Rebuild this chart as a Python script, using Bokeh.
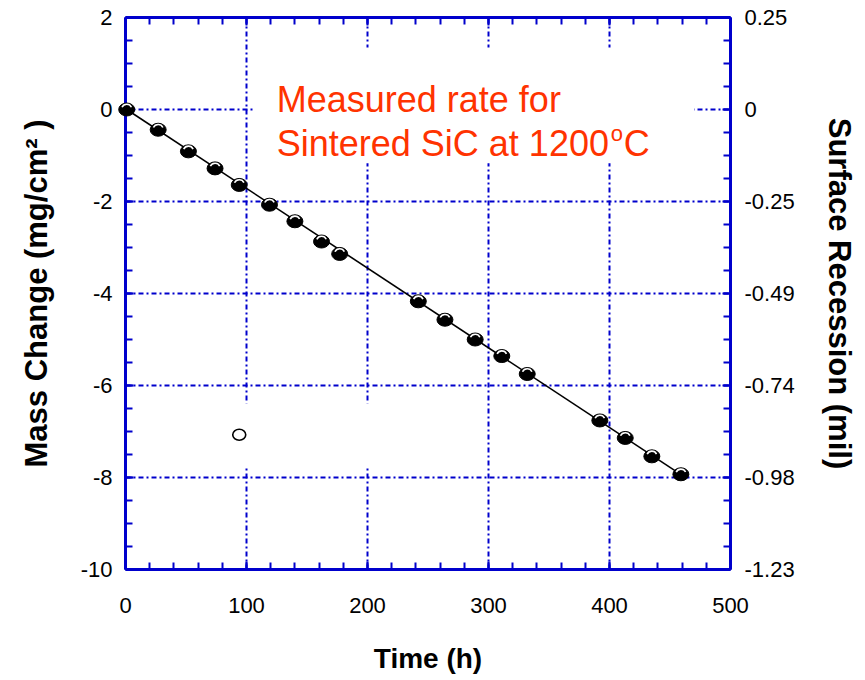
from bokeh.plotting import figure
from bokeh.models import (LinearAxis, SingleIntervalTicker, Label, BoxAnnotation,
                          Range1d, ColumnDataSource, CustomJSTickFormatter)
from bokeh.embed import file_html
from bokeh.resources import INLINE

# ---- data ----
time_h = [1, 27, 52, 74, 94, 119, 140, 162, 177, 242, 264, 289, 311, 332, 392, 413, 435, 459]
mass_change = [0.0, -0.44, -0.91, -1.28, -1.64, -2.07, -2.43, -2.87, -3.14,
               -4.17, -4.57, -5.0, -5.36, -5.75, -6.76, -7.14, -7.54, -7.93]
fit_time = [1, 461]
fit_mass = [0.0, -7.97]
outlier_time = [94]
outlier_mass = [-7.07]
mass_ticks = [2, 0, -2, -4, -6, -8, -10]
mass_labels = ["2", "0", "-2", "-4", "-6", "-8", "-10"]
recession_labels = ["0.25", "0", "-0.25", "-0.49", "-0.74", "-0.98", "-1.23"]

BLUE = "#0000CC"
RED = "#FF3300"
FONT = "Liberation Sans"

p = figure(frame_width=605, frame_height=552,
           x_range=Range1d(0, 500), y_range=Range1d(-10, 2),
           output_backend="svg", toolbar_location=None,
           min_border_left=125, min_border_right=130,
           min_border_top=17, min_border_bottom=105,
           outline_line_color=None, background_fill_color="white",
           border_fill_color="white")


def style_axis(ax, standoff):
    ax.axis_line_color = BLUE
    ax.axis_line_width = 3
    ax.major_tick_line_color = BLUE
    ax.major_tick_line_width = 2
    ax.major_tick_in = 8
    ax.major_tick_out = 0
    ax.minor_tick_line_color = BLUE
    ax.minor_tick_line_width = 2
    ax.minor_tick_in = 7
    ax.minor_tick_out = 0
    ax.major_label_text_font = FONT
    ax.major_label_text_font_size = "22px"
    ax.major_label_text_color = "black"
    ax.major_label_standoff = standoff
    ax.axis_label_text_font = FONT
    ax.axis_label_text_font_style = "bold"
    ax.axis_label_text_font_size = "28px"
    ax.axis_label_text_color = "black"


xaxis = p.xaxis[0]
xaxis.ticker = SingleIntervalTicker(interval=100, num_minor_ticks=5)
style_axis(xaxis, 28)
xaxis.axis_label = "Time (h)"
xaxis.axis_label_standoff = 27

yaxis = p.yaxis[0]
yaxis.ticker = SingleIntervalTicker(interval=2, num_minor_ticks=4)
style_axis(yaxis, 13)
yaxis.major_label_overrides = {t: lab for t, lab in zip(mass_ticks, mass_labels)}
yaxis.axis_label = "Mass Change (mg/cm\u00b2 )"
yaxis.axis_label_text_font_size = "31px"
yaxis.axis_label_standoff = 24

top_axis = LinearAxis(ticker=SingleIntervalTicker(interval=100, num_minor_ticks=5),
                      formatter=CustomJSTickFormatter(code="return ''"))
style_axis(top_axis, 0)
p.add_layout(top_axis, "above")

right_axis = LinearAxis(ticker=SingleIntervalTicker(interval=2, num_minor_ticks=4))
style_axis(right_axis, 14)
right_axis.major_label_overrides = {t: lab for t, lab in zip(mass_ticks, recession_labels)}
right_axis.axis_label = "Surface Recession (mil)"
right_axis.axis_label_text_font_size = "31px"
right_axis.axis_label_standoff = 24
p.add_layout(right_axis, "right")

for g in (p.xgrid[0], p.ygrid[0]):
    g.grid_line_color = BLUE
    g.grid_line_width = 2
    g.grid_line_dash = "5 3 2 3"

# white boxes that hide the grid behind the annotation and the legend marker
p.add_layout(BoxAnnotation(left=107, right=470, top=1.35, bottom=-1.17,
                           fill_color="white", fill_alpha=1, line_alpha=0,
                           level="underlay"))
p.add_layout(BoxAnnotation(left=60, right=250, top=-6.39, bottom=-7.78,
                           fill_color="white", fill_alpha=1, line_alpha=0,
                           level="underlay"))

# fit line
p.line(fit_time, fit_mass, line_color="black", line_width=1.6)

# markers
src = ColumnDataSource(dict(t=time_h, m=mass_change))
p.ellipse("t", "m", width=16, height=13, width_units="screen", height_units="screen",
          fill_color="black", line_color="black", line_width=1, source=src, level="overlay")
p.arc("t", "m", radius=5.2, radius_units="screen", start_angle=0.45, end_angle=2.7,
      line_color="white", line_width=1.6, source=src, level="overlay")

p.ellipse(outlier_time, outlier_mass, width=13, height=11, width_units="screen",
          height_units="screen", fill_color="white", line_color="black", line_width=1.6)

# annotation text
common = dict(text_font=FONT, text_color=RED, text_baseline="alphabetic", text_align="left")
p.add_layout(Label(x=125, y=0.22, text="Measured rate for", text_font_size="36px", **common))
p.add_layout(Label(x=125, y=-0.74, text="Sintered SiC at 1200", text_font_size="36px", **common))
p.add_layout(Label(x=125, y=-0.52, x_offset=334, text="o", text_font_size="22px", **common))
p.add_layout(Label(x=125, y=-0.74, x_offset=347, text="C", text_font_size="36px", **common))

open("out.html", "w").write(file_html(p, INLINE))
